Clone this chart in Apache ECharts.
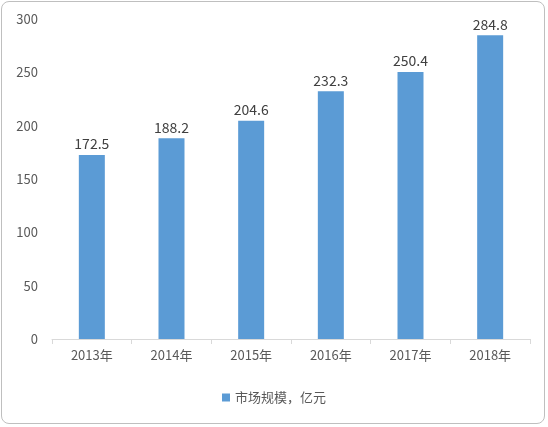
<!DOCTYPE html>
<html><head><meta charset="utf-8">
<script src="https://cdn.jsdelivr.net/npm/echarts@6/dist/echarts.min.js"></script>
<style>
html,body{margin:0;padding:0;background:#fff;}
#wrap{position:absolute;left:1px;top:1px;width:544px;height:423px;border:1px solid #bfbfbf;border-radius:8px;box-sizing:border-box;}
#chart{width:548px;height:427px;position:absolute;left:0;top:0;}
</style></head>
<body>
<div id="wrap"></div>
<div id="chart"></div>
<script>
const years = ["2013年", "2014年", "2015年", "2016年", "2017年", "2018年"];
const marketSize = [172.5, 188.2, 204.6, 232.3, 250.4, 284.8];
const seriesName = "市场规模，亿元";

const chart = echarts.init(document.getElementById("chart"));
const font = "'Noto Sans CJK SC', 'Noto Sans', sans-serif";
chart.setOption({
  animation: false,
  textStyle: { fontFamily: font },
  grid: { left: 52, right: 18, top: 19, bottom: 88 },
  legend: {
    bottom: 18,
    itemWidth: 8, itemHeight: 8,
    icon: "rect",
    textStyle: { color: "#595959", fontSize: 13, fontFamily: font },
  },
  xAxis: {
    type: "category",
    data: years,
    axisLine: { lineStyle: { color: "#d9d9d9" } },
    axisTick: { show: true, alignWithLabel: false, length: 5, lineStyle: { color: "#d9d9d9" } },
    axisLabel: { color: "#595959", fontSize: 13, margin: 10 },
  },
  yAxis: {
    type: "value",
    min: 0, max: 300, interval: 50,
    splitLine: { show: false },
    axisLine: { show: false },
    axisTick: { show: false },
    axisLabel: { color: "#595959", fontSize: 13, margin: 14 },
  },
  series: [{
    name: seriesName,
    type: "bar",
    data: marketSize,
    barWidth: 26,
    itemStyle: { color: "#5b9bd5" },
    label: { show: true, position: "top", color: "#404040", fontSize: 14, distance: 4 },
  }],
});
</script>
</body></html>
